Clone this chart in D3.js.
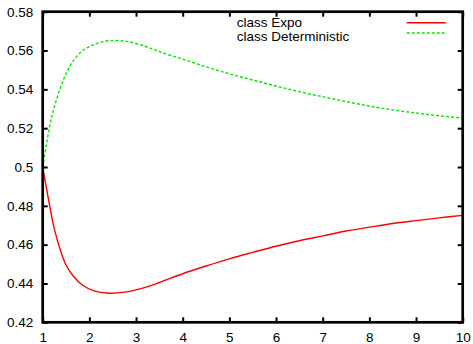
<!DOCTYPE html>
<html>
<head>
<meta charset="utf-8">
<script src="https://cdn.jsdelivr.net/npm/d3@7"></script>
<style>
  html, body { margin: 0; padding: 0; background: #fff; }
  svg { display: block; font-family: "Liberation Sans", Arial, sans-serif; }
</style>
</head>
<body>
<svg id="chart" width="473" height="344"></svg>
<script>
// ---- data ----
const xValues = [1, 1.15, 1.25, 1.375, 1.5, 1.65, 1.85, 2.1, 2.4, 2.8, 3.2, 3.5, 4, 4.5, 5, 5.5, 6, 6.5, 7, 7.5, 8, 8.5, 9, 9.5, 10];
const expoValues = [0.500, 0.480, 0.468, 0.4575, 0.4495, 0.4440, 0.4392, 0.4362, 0.4350, 0.4357, 0.4380, 0.4405, 0.4450, 0.4490, 0.4527, 0.4560, 0.4592, 0.4620, 0.4645, 0.4670, 0.4690, 0.4709, 0.4724, 0.4738, 0.4751];
const deterministicValues = [0.500, 0.521, 0.531, 0.5405, 0.548, 0.5545, 0.5598, 0.5631, 0.5650, 0.5647, 0.5622, 0.5594, 0.5556, 0.5516, 0.5480, 0.5448, 0.5417, 0.5388, 0.5362, 0.5337, 0.5314, 0.5294, 0.5278, 0.5264, 0.5252];
const xTicks = [1, 2, 3, 4, 5, 6, 7, 8, 9, 10];
const yTicks = [0.42, 0.44, 0.46, 0.48, 0.5, 0.52, 0.54, 0.56, 0.58];
const yTickLabels = ["0.42", "0.44", "0.46", "0.48", "0.5", "0.52", "0.54", "0.56", "0.58"];
const seriesNames = ["class Expo", "class Deterministic"];
const seriesColors = ["#ff0000", "#00e600"];

// ---- layout ----
const L = 42.7, R = 462.7, T = 11.7, B = 322.3;
const svg = d3.select("#chart");
const x = d3.scaleLinear().domain([1, 10]).range([L, R]);
const y = d3.scaleLinear().domain([0.42, 0.58]).range([B, T]);

const series = [
  { name: seriesNames[0], color: seriesColors[0], dash: null, values: expoValues },
  { name: seriesNames[1], color: seriesColors[1], dash: "3,2", values: deterministicValues }
];

// axes (ticks inward, mirrored)
const tickStyle = g => {
  g.select(".domain").remove();
  g.selectAll(".tick line").attr("stroke", "#000").attr("stroke-width", 2);
  g.selectAll(".tick text").attr("fill", "#000").attr("font-size", "13.5px")
    .attr("font-family", "Liberation Sans, Arial, sans-serif");
};
svg.append("g").attr("transform", `translate(0,${B})`)
  .call(d3.axisBottom(x).tickValues(xTicks).tickFormat(d3.format("d")).tickSize(-5).tickPadding(10))
  .call(tickStyle);
svg.append("g").attr("transform", `translate(0,${T})`)
  .call(d3.axisTop(x).tickValues(xTicks).tickFormat("").tickSize(-5))
  .call(tickStyle);
svg.append("g").attr("transform", `translate(${L},0)`)
  .call(d3.axisLeft(y).tickValues(yTicks).tickFormat((d, i) => yTickLabels[i]).tickSize(-5).tickPadding(9.5))
  .call(tickStyle);
svg.append("g").attr("transform", `translate(${R},0)`)
  .call(d3.axisRight(y).tickValues(yTicks).tickFormat("").tickSize(-5))
  .call(tickStyle);

// lines
const line = d3.line().x((d, i) => x(xValues[i])).y(d => y(d)).curve(d3.curveCatmullRom.alpha(0.5));
series.slice().reverse().forEach(s => {
  svg.append("path").datum(s.values)
    .attr("fill", "none").attr("stroke", s.color).attr("stroke-width", 1.4)
    .attr("stroke-dasharray", s.dash)
    .attr("d", line);
});

// frame
svg.append("rect").attr("x", L).attr("y", T).attr("width", R - L).attr("height", B - T)
  .attr("fill", "none").attr("stroke", "#000").attr("stroke-width", 2.7);

// legend
const legendTextY = [27.3, 41.2];
const legendLineY = [22.7, 33];
series.forEach((s, i) => {
  svg.append("text").attr("x", 236.7).attr("y", legendTextY[i])
    .attr("font-size", "13.5px").attr("fill", "#000").text(s.name);
  svg.append("line").attr("x1", 406.7).attr("x2", 445.7)
    .attr("y1", legendLineY[i]).attr("y2", legendLineY[i])
    .attr("stroke", s.color).attr("stroke-width", 1.4).attr("stroke-dasharray", s.dash);
});
</script>
</body>
</html>
